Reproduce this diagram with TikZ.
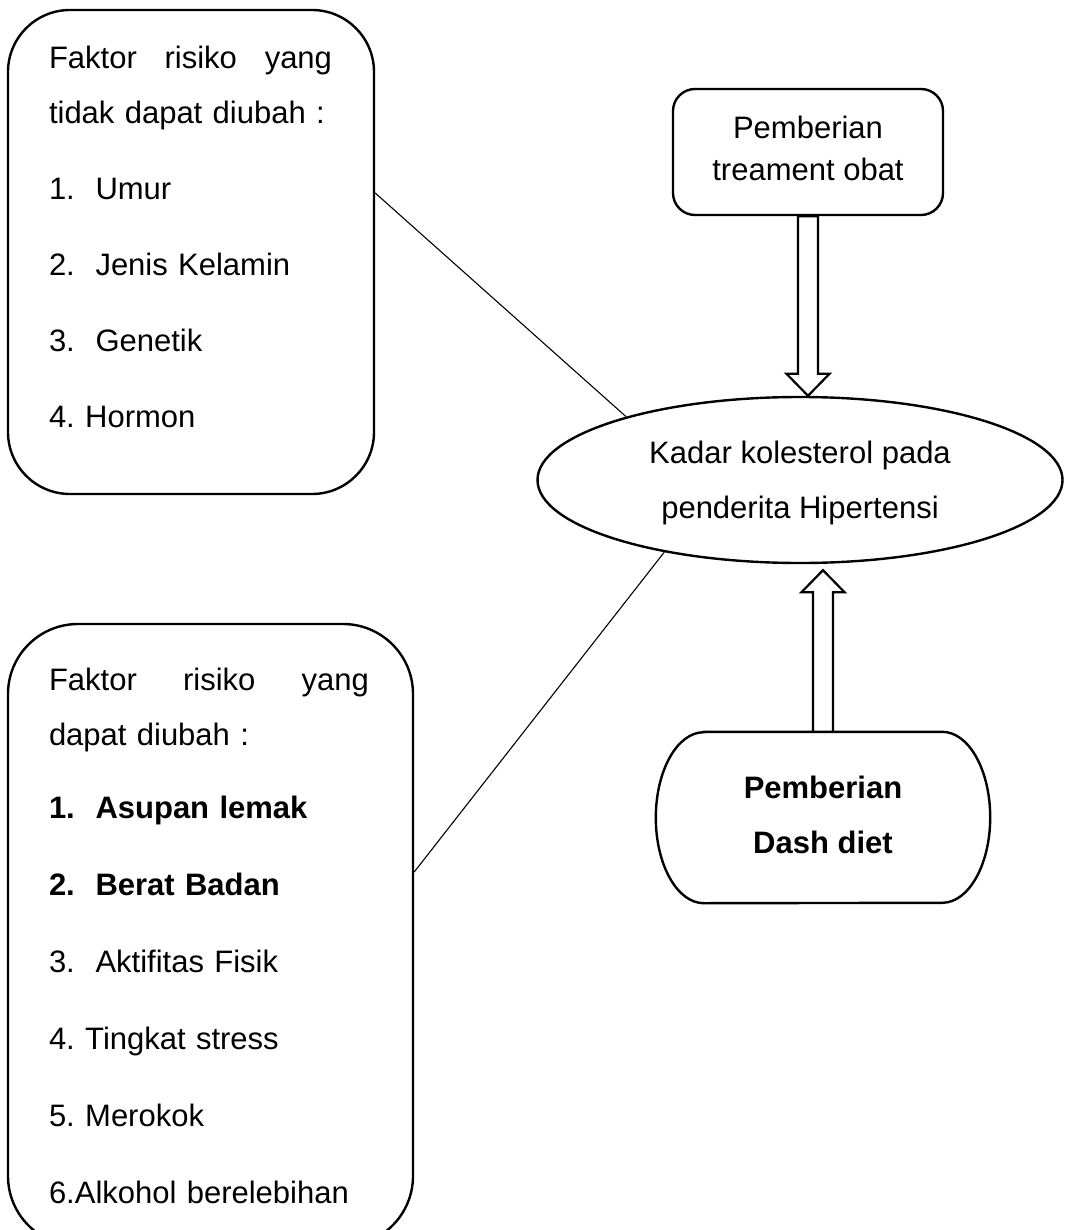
\documentclass[tikz,border=0pt]{standalone}
\usepackage{fontspec}
\setmainfont{Liberation Sans}
\usetikzlibrary{calc, shapes.geometric}

\newcommand{\hollowarrow}[2]{%
  \path ($(#2)!22pt!(#1)$) coordinate (headbase);
  \draw[arrowline] ($(#1)!10pt!90:(#2)$) -- ($(headbase)!10pt!90:(#2)$)
        -- ($(headbase)!21.5pt!90:(#2)$) -- (#2) -- ($(headbase)!21.5pt!-90:(#2)$)
        -- ($(headbase)!10pt!-90:(#2)$) -- ($(#1)!10pt!-90:(#2)$) -- cycle;}

\tikzset{
  riskbox/.style = {rectangle, rounded corners=62pt, draw, line width=2.4pt, inner sep=0pt},
  risklist/.style = {anchor=north west, align=left, inner sep=0pt,
                     font=\fontsize{31}{55}\selectfont\frenchspacing},
  treatbox/.style = {rectangle, rounded corners=22pt, draw, line width=2.4pt, align=center,
                     inner sep=0pt, font=\fontsize{31}{42}\selectfont, text depth=8pt},
  mainnode/.style = {ellipse, draw, line width=2.4pt, inner sep=0pt, align=center,
                     font=\fontsize{31}{55}\selectfont, text depth=0pt},
  dietnode/.style = {rectangle, inner sep=0pt, align=center, text depth=6pt,
                     font=\fontsize{31}{55}\selectfont\bfseries},
  boxline/.style = {line width=2.4pt},
  arrowline/.style = {line width=2.2pt, fill=white, line join=miter},
  link/.style = {line width=1.1pt}
}

\begin{document}
\begin{tikzpicture}[x=1pt, y=-1pt]
  \clip (0,0) rectangle (1071,1230);

  \node [riskbox, minimum width=366pt, minimum height=484pt] (fixed) at (191,252) {};
  \node [risklist, text width=283pt] (fixedlist) at ($(fixed.north west)+(42,37)$)
        {Faktor \hfill risiko \hfill yang\\
         tidak dapat diubah :\\[21pt]
         1.\ \ Umur\\[21pt]
         2.\ \ Jenis Kelamin\\[21pt]
         3.\ \ Genetik\\[21pt]
         4. Hormon};

  \node [riskbox, rounded corners=70pt, minimum width=405pt, minimum height=622pt] (change) at (210.5,935) {};
  \node [risklist, text width=320pt] (changelist) at ($(change.north west)+(42,45)$)
        {Faktor \hfill risiko \hfill yang\\
         dapat diubah :\\[18pt]
         \textbf{1.\ \ Asupan lemak}\\[22pt]
         \textbf{2.\ \ Berat Badan}\\[22pt]
         3.\ \ Aktifitas Fisik\\[22pt]
         4. Tingkat stress\\[22pt]
         5. Merokok\\[22pt]
         6.Alkohol berelebihan};

  \node [treatbox, minimum width=270pt, minimum height=126pt] (obat) at (808,152) {Pemberian\\treament obat};
  \node [mainnode, minimum width=525pt, minimum height=166pt] (kadar) at (800,480) {Kadar kolesterol pada\\penderita Hipertensi};
  \node [dietnode, minimum width=334pt, minimum height=171pt] (dash) at (823,817.5) {Pemberian\\Dash diet};
  \draw [boxline] ($(dash.north west)+(48,0)$) -- ($(dash.north east)+(-48,0)$)
        arc [start angle=90, end angle=-90, x radius=48pt, y radius=85.5pt]
        -- ($(dash.south west)+(48,0)$)
        arc [start angle=270, end angle=90, x radius=48pt, y radius=85.5pt] -- cycle;

  \draw [link] ([yshift=59pt]fixed.east) -- (kadar.160);
  \draw [link] ([yshift=63pt]change.east) -- (kadar.208);

  \coordinate (obattip) at (obat.south |- kadar.north);
  \coordinate (dashtip) at ($(dash.north |- kadar.south)+(0,6)$);
  \hollowarrow{obat.south}{obattip}
  \hollowarrow{dash.north}{dashtip}
\end{tikzpicture}
\end{document}
